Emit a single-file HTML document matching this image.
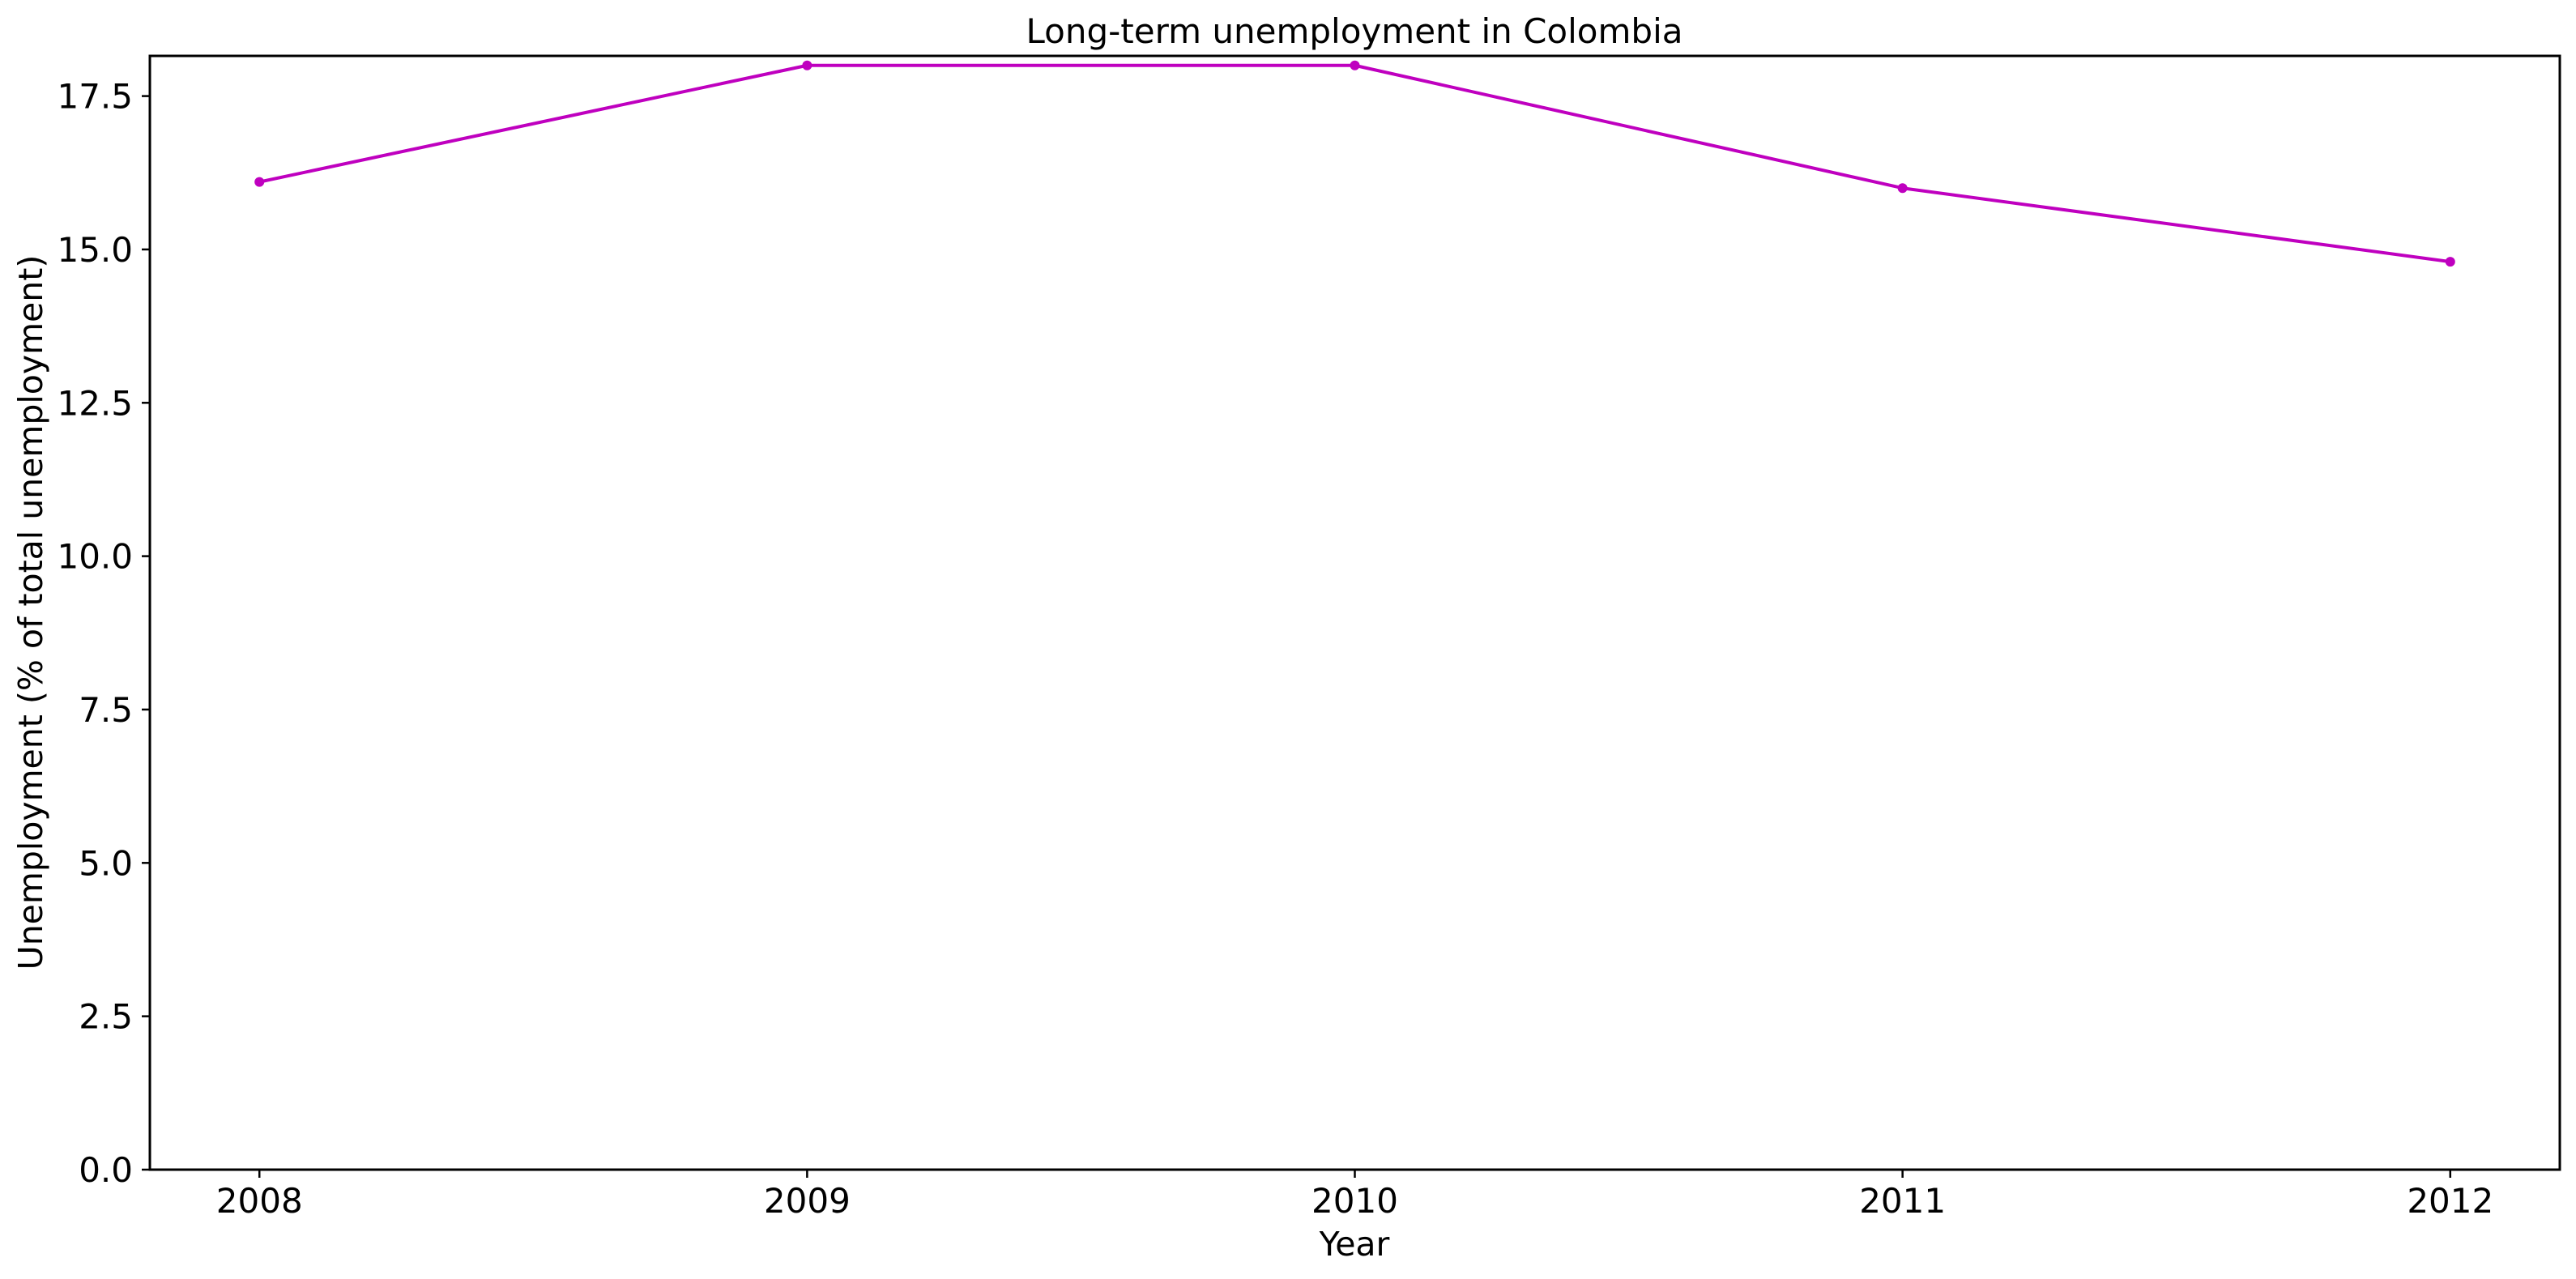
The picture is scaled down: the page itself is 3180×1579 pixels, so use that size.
<!DOCTYPE html>
<html><head><meta charset="utf-8"><style>
html,body{margin:0;padding:0;background:#fff;}
svg{display:block;font-family:"DejaVu Sans","Liberation Sans",sans-serif;}
</style></head><body>
<svg id="chart" width="3180" height="1579" viewBox="0 0 3180 1579" xmlns="http://www.w3.org/2000/svg">
<rect width="3180" height="1579" fill="#fff"/>
<text x="1672" y="53" font-size="42" text-anchor="middle">Long-term unemployment in Colombia</text>
<text x="1672" y="1550" font-size="41" text-anchor="middle">Year</text>
<text transform="translate(52,756) rotate(-90)" font-size="41" text-anchor="middle">Unemployment (% of total unemployment)</text>
<g id="ticks"></g>
<g id="series"></g>
<rect x="185" y="69" width="2975" height="1375" fill="none" stroke="#000" stroke-width="3"/>
</svg>
<script>
const years = [2008, 2009, 2010, 2011, 2012];
const values = [16.1, 18.0, 18.0, 16.0, 14.8];
const yTicks = [0, 2.5, 5, 7.5, 10, 12.5, 15, 17.5];
const yTickLabels = ["0.0", "2.5", "5.0", "7.5", "10.0", "12.5", "15.0", "17.5"];

const L=185, R=3160, T=69, B=1444;
const xMin=2007.8, xMax=2012.2, yMin=0, yMax=18.155;
function xs(v){return L+(v-xMin)/(xMax-xMin)*(R-L);}
function ys(v){return B-(v-yMin)/(yMax-yMin)*(B-T);}
const NS="http://www.w3.org/2000/svg";
const tg=document.getElementById('ticks');
const sg=document.getElementById('series');
function mk(t,a,p){const e=document.createElementNS(NS,t);for(const k in a)e.setAttribute(k,a[k]);p.appendChild(e);return e;}

yTicks.forEach((v,i)=>{
  const y=ys(v);
  const l=mk('line',{x1:L-10,x2:L,y1:y,y2:y,stroke:'#000','stroke-width':2.5},tg);
  
  
  const t=mk('text',{x:L-21,y:y+15,'font-size':42,'text-anchor':'end'},tg);
  t.textContent=yTickLabels[i];
  
  
});
years.forEach(v=>{
  const x=xs(v);
  const l=mk('line',{x1:x,x2:x,y1:B,y2:B+10,stroke:'#000','stroke-width':2.5},tg);
  
  
  const t=mk('text',{x:x,y:1497,'font-size':42,'text-anchor':'middle'},tg);
  t.textContent=String(v);
  
  
});
const pts=years.map((y,i)=>xs(y)+','+ys(values[i])).join(' ');
const pl=mk('polyline',{points:pts,fill:'none',stroke:'#bf00bf','stroke-width':4,'stroke-linejoin':'round'},sg);


years.forEach((y,i)=>{
  const c=mk('circle',{cx:xs(y),cy:ys(values[i]),r:6,fill:'#bf00bf'},sg);
  
  
});
</script>
</body></html>
